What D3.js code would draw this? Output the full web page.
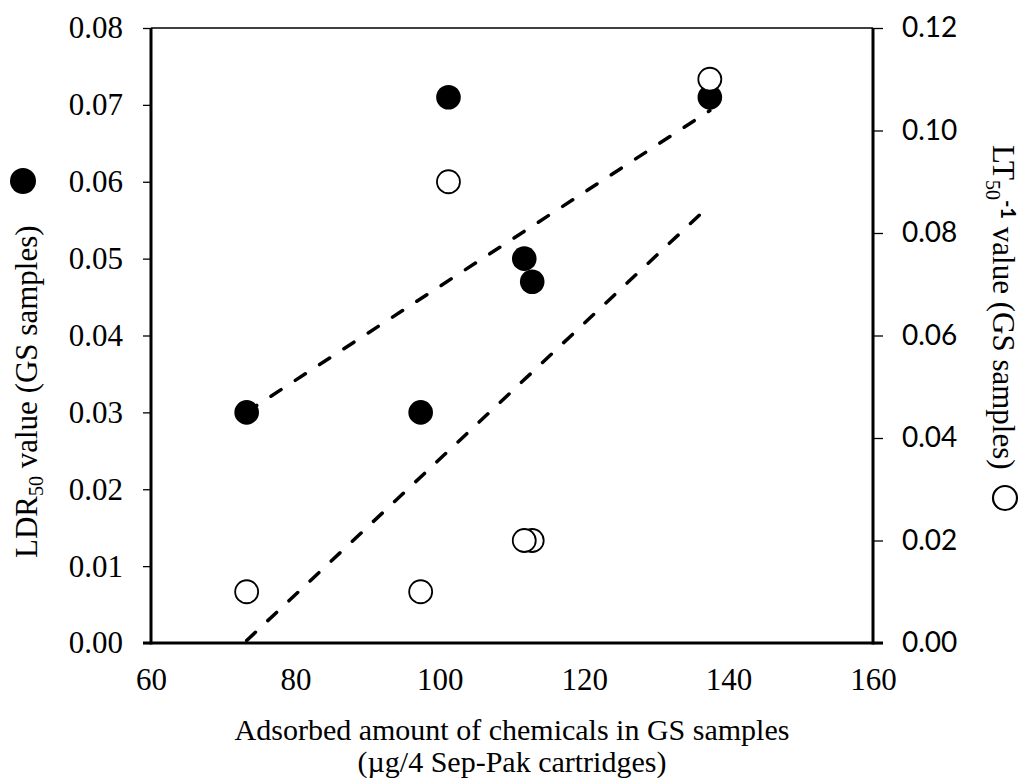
<!DOCTYPE html>
<html>
<head>
<meta charset="utf-8">
<script src="https://cdn.jsdelivr.net/npm/d3@7"></script>
<style>
  html, body { margin: 0; padding: 0; background: #fff; }
  svg { display: block; }
</style>
</head>
<body>
<svg id="chart" width="1021" height="778"></svg>
<script>
// ---- data ----
const adsorbed = [73.25, 97.35, 101.2, 112.8, 111.7, 137.4];   // µg / 4 Sep-Pak cartridges
const ldr50    = [0.030, 0.030, 0.071, 0.047, 0.050, 0.071];   // left axis, filled circles
const lt50inv  = [0.010, 0.010, 0.090, 0.020, 0.020, 0.110];   // right axis, open circles
const xTicks     = [60, 80, 100, 120, 140, 160];
const leftTicks  = [0, 0.01, 0.02, 0.03, 0.04, 0.05, 0.06, 0.07, 0.08];
const rightTicks = [0, 0.02, 0.04, 0.06, 0.08, 0.10, 0.12];

const svg = d3.select("#chart");
const L = 151, R = 873, T = 28, B = 643;

const x  = d3.scaleLinear().domain([60, 160]).range([L, R]);
const yL = d3.scaleLinear().domain([0, 0.08]).range([B, T]);
const yR = d3.scaleLinear().domain([0, 0.12]).range([B, T]);

const serif = "'Liberation Serif', 'Times New Roman', serif";
const sans  = "Lato, 'Liberation Sans', sans-serif";

// top border
svg.append("line").attr("x1", L).attr("x2", R).attr("y1", T).attr("y2", T)
  .attr("stroke", "#000").attr("stroke-width", 1.3);

// left axis
const axL = svg.append("g").attr("transform", `translate(${L},0)`)
  .call(d3.axisLeft(yL).tickValues(leftTicks).tickFormat(d3.format(".2f")).tickSize(8).tickPadding(20));
axL.attr("font-family", null).attr("font-size", null);
axL.select(".domain").remove();
axL.selectAll(".tick line").attr("stroke-width", 1.3);
axL.selectAll(".tick text").style("font-family", serif).style("font-size", "31px").attr("fill", "#000");
svg.append("line").attr("x1", L).attr("x2", L).attr("y1", T).attr("y2", B + 1.5)
  .attr("stroke", "#000").attr("stroke-width", 3);

// right axis
const axR = svg.append("g").attr("transform", `translate(${R},0)`)
  .call(d3.axisRight(yR).tickValues(rightTicks).tickFormat(d3.format(".2f")).tickSize(10).tickPadding(19));
axR.attr("font-family", null).attr("font-size", null);
axR.select(".domain").remove();
axR.selectAll(".tick line").attr("stroke-width", 1.3);
axR.selectAll(".tick text").style("font-family", sans).style("font-size", "28px").attr("fill", "#000");
svg.append("line").attr("x1", R).attr("x2", R).attr("y1", T).attr("y2", B + 1.5)
  .attr("stroke", "#000").attr("stroke-width", 3);

// bottom axis
const axB = svg.append("g").attr("transform", `translate(0,${B})`)
  .call(d3.axisBottom(x).tickValues(xTicks).tickFormat(d3.format("d")).tickSize(0).tickPadding(25));
axB.attr("font-family", null).attr("font-size", null);
axB.select(".domain").remove();
axB.selectAll(".tick text").style("font-family", serif).style("font-size", "31px").attr("fill", "#000");
svg.append("line").attr("x1", L - 8).attr("x2", R + 10).attr("y1", B).attr("y2", B)
  .attr("stroke", "#000").attr("stroke-width", 3);

// least-squares trend lines
function fit(xs, ys) {
  const mx = d3.mean(xs), my = d3.mean(ys);
  let sxy = 0, sxx = 0;
  xs.forEach((v, i) => { sxy += (v - mx) * (ys[i] - my); sxx += (v - mx) * (v - mx); });
  const b = sxy / sxx, a = my - b * mx;
  const [x0, x1] = d3.extent(xs);
  return [[x0, a + b * x0], [x1, a + b * x1]];
}
const fitL = fit(adsorbed, ldr50);
const fitR = fit(adsorbed, lt50inv);

svg.append("path")
  .attr("d", d3.line().x(d => x(d[0])).y(d => yL(d[1]))(fitL))
  .attr("fill", "none").attr("stroke", "#000").attr("stroke-width", 3.5)
  .attr("stroke-dasharray", "12,17").attr("stroke-linecap", "round");
svg.append("path")
  .attr("d", d3.line().x(d => x(d[0])).y(d => yR(d[1]))(fitR))
  .attr("fill", "none").attr("stroke", "#000").attr("stroke-width", 3.5)
  .attr("stroke-dasharray", "12,17").attr("stroke-linecap", "round");

// points
svg.append("g").selectAll("circle").data(adsorbed).join("circle")
  .attr("cx", d => x(d)).attr("cy", (d, i) => yL(ldr50[i])).attr("r", 12.3)
  .attr("fill", "#000");
svg.append("g").selectAll("circle").data(adsorbed).join("circle")
  .attr("cx", d => x(d)).attr("cy", (d, i) => yR(lt50inv[i])).attr("r", 11.5)
  .attr("fill", "#fff").attr("stroke", "#000").attr("stroke-width", 1.8);

// left axis title
const tl = svg.append("text").attr("transform", "translate(37,558) rotate(-90)")
  .style("font-family", serif).style("font-size", "31px").attr("fill", "#000");
tl.append("tspan").text("LDR");
tl.append("tspan").style("font-size", "20px").attr("dy", 6).text("50");
tl.append("tspan").attr("dy", -6).text(" value (GS samples)");
svg.append("circle").attr("cx", 23).attr("cy", 181).attr("r", 13).attr("fill", "#000");

// right axis title
const tr = svg.append("text").attr("transform", "translate(993,145) rotate(90)")
  .style("font-family", serif).style("font-size", "31px").attr("fill", "#000");
tr.append("tspan").text("LT");
tr.append("tspan").style("font-size", "20px").attr("dy", 7).text("50");
tr.append("tspan").style("font-size", "20px").attr("dy", -15).style("font-family", sans).style("font-weight", "bold").text("-1");
tr.append("tspan").attr("dy", 8).text(" value (GS samples)");
svg.append("circle").attr("cx", 1005).attr("cy", 498).attr("r", 12).attr("fill", "none")
  .attr("stroke", "#000").attr("stroke-width", 2.2);

// bottom title
const tb = svg.append("text").style("font-family", serif).style("font-size", "30px").attr("fill", "#000")
  .attr("text-anchor", "middle");
tb.append("tspan").attr("x", 512).attr("y", 740).text("Adsorbed amount of chemicals in GS samples");
tb.append("tspan").attr("x", 512).attr("y", 772).text("(µg/4 Sep-Pak cartridges)");
</script>
</body>
</html>
